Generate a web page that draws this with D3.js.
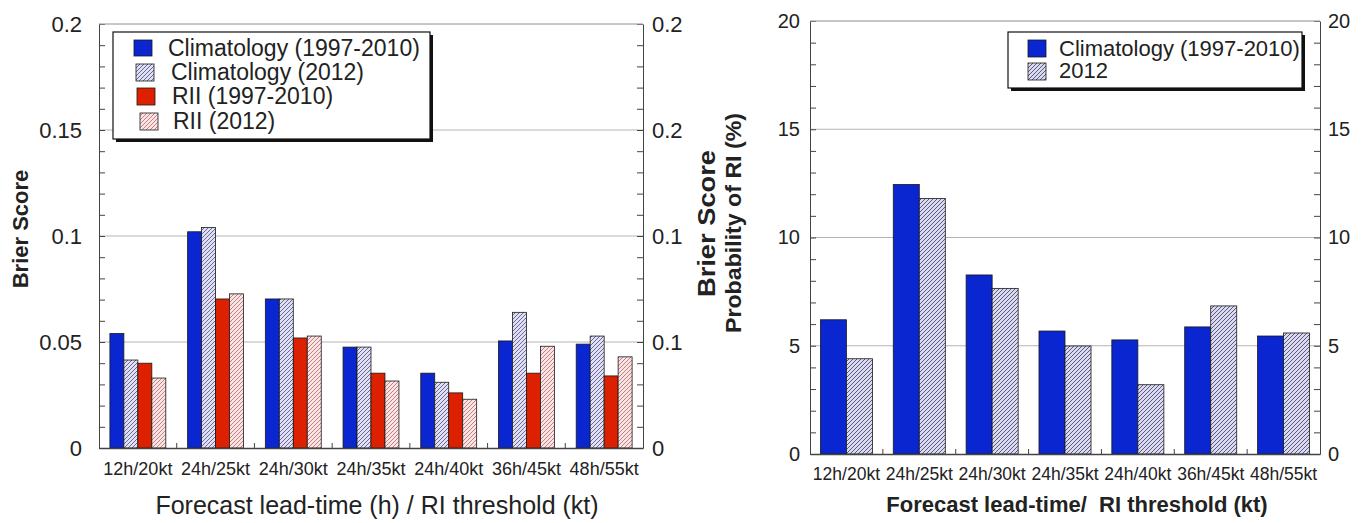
<!DOCTYPE html>
<html>
<head>
<meta charset="utf-8">
<script src="https://cdn.jsdelivr.net/npm/d3@7"></script>
<style>
  html, body { margin: 0; padding: 0; background: #fff; }
  svg { display: block; }
  text { font-family: "Liberation Sans", Arial, Helvetica, sans-serif; fill: #222; }
</style>
</head>
<body>
<script>
// ---------------- DATA ----------------
const categories = ["12h/20kt", "24h/25kt", "24h/30kt", "24h/35kt", "24h/40kt", "36h/45kt", "48h/55kt"];

// Left panel: Brier Score
const climBS_9710 = [0.054, 0.102, 0.0703, 0.0476, 0.0353, 0.0505, 0.049];
const climBS_2012 = [0.0415, 0.104, 0.0703, 0.0476, 0.031, 0.064, 0.0528];
const riiBS_9710  = [0.040, 0.0703, 0.0519, 0.0353, 0.026, 0.0353, 0.034];
const riiBS_2012  = [0.033, 0.0727, 0.0528, 0.0316, 0.023, 0.048, 0.043];
const leftSeriesNames = ["Climatology (1997-2010)", "Climatology (2012)", "RII (1997-2010)", "RII (2012)"];
const leftTickValues = [0, 0.05, 0.1, 0.15, 0.2];
const leftTickLabels = ["0", "0.05", "0.1", "0.15", "0.2"];
const leftRightTickLabels = ["0", "0.1", "0.1", "0.2", "0.2"];

// Right panel: Probability of RI (%)
const probClim_9710 = [6.2, 12.45, 8.27, 5.68, 5.27, 5.87, 5.45];
const prob_2012     = [4.4, 11.8, 7.65, 4.99, 3.2, 6.84, 5.59];
const rightSeriesNames = ["Climatology (1997-2010)", "2012"];
const rightTickValues = [0, 5, 10, 15, 20];
const rightTickLabels = ["0", "5", "10", "15", "20"];

// ---------------- SVG ----------------
const W = 1368, H = 523;
const svg = d3.select("body").append("svg").attr("width", W).attr("height", H);

const defs = svg.append("defs");
function hatch(id, bg, line) {
  const p = defs.append("pattern").attr("id", id).attr("patternUnits", "userSpaceOnUse")
    .attr("width", 4).attr("height", 4);
  p.append("rect").attr("width", 4).attr("height", 4).attr("fill", bg);
  p.append("path").attr("d", "M-1,1 l2,-2 M0,4 l4,-4 M3,5 l2,-2")
    .attr("stroke", line).attr("stroke-width", 0.9);
}
hatch("hBlue", "#e0e0f2", "#5a5a90");
hatch("hRed", "#f8e4e4", "#c07474");
hatch("hBlue2", "#dadaec", "#4a4a7e");

const BLUE = "#0a26d0", RED = "#dc2000";
const AXIS = "#444", GRID = "#b4b4b4";

// Generic panel drawer
function panel(opts) {
  const g = svg.append("g");
  const x = d3.scaleBand().domain(categories).range([opts.x0, opts.x1]).paddingInner(0).paddingOuter(0);
  const y = d3.scaleLinear().domain(opts.domain).range([opts.yb, opts.yt]);
  const sub = d3.scaleBand().domain(d3.range(opts.series.length))
    .range([0, x.bandwidth()]).paddingInner(0).paddingOuter(opts.subPad);

  // gridlines
  g.append("g").selectAll("line").data(opts.majors.slice(1)).join("line")
    .attr("x1", opts.x0).attr("x2", opts.x1)
    .attr("y1", d => y(d)).attr("y2", d => y(d))
    .attr("stroke", GRID).attr("stroke-width", 1);

  // bars
  opts.series.forEach((s, i) => {
    g.append("g").selectAll("rect").data(s.values).join("rect")
      .attr("x", (d, j) => x(categories[j]) + sub(i))
      .attr("width", sub.bandwidth())
      .attr("y", d => y(d))
      .attr("height", d => y(0) - y(d))
      .attr("fill", s.fill)
      .attr("stroke", "#1a1a1a").attr("stroke-width", 0.8);
  });

  // left axis
  const axL = d3.axisLeft(y).tickValues(opts.majors).tickSizeInner(-6).tickSizeOuter(0)
    .tickPadding(opts.padL).tickFormat((d, i) => opts.labelsL[i]);
  const gl = g.append("g").attr("transform", `translate(${opts.x0},0)`).call(axL);
  const axLm = d3.axisLeft(y).tickValues(opts.minors).tickSize(-6).tickFormat("");
  const glm = g.append("g").attr("transform", `translate(${opts.x0},0)`).call(axLm);
  glm.select(".domain").remove();

  // right axis
  const axR = d3.axisRight(y).tickValues(opts.majors).tickSizeInner(-6).tickSizeOuter(0)
    .tickPadding(opts.padR).tickFormat((d, i) => opts.labelsR[i]);
  const gr = g.append("g").attr("transform", `translate(${opts.x1},0)`).call(axR);
  const axRm = d3.axisRight(y).tickValues(opts.minors).tickSize(-6).tickFormat("");
  const grm = g.append("g").attr("transform", `translate(${opts.x1},0)`).call(axRm);
  grm.select(".domain").remove();

  [gl, gr].forEach(a => {
    a.selectAll("text").style("font-size", opts.yFont + "px").attr("fill", "#222");
  });
  [gl, glm, gr, grm].forEach(a => {
    a.selectAll("path,line").attr("stroke", AXIS);
    a.attr("font-family", null);
  });

  // bottom axis
  const axB = d3.axisBottom(x).tickSize(0).tickPadding(opts.xPad).tickSizeOuter(0);
  const gb = g.append("g").attr("transform", `translate(0,${y(0)})`).call(axB);
  gb.attr("font-family", null);
  gb.select(".domain").attr("stroke", AXIS).attr("stroke-width", 1.3);
  gb.selectAll("text").style("font-size", opts.xFont + "px").attr("fill", "#222");
  // group boundary ticks (pointing up)
  g.append("g").selectAll("line").data(categories.slice(1)).join("line")
    .attr("x1", d => x(d)).attr("x2", d => x(d))
    .attr("y1", y(0)).attr("y2", y(0) - 5)
    .attr("stroke", AXIS);

  return { x, y, g };
}

// ---------------- LEFT PANEL ----------------
const leftFills = [BLUE, "url(#hBlue)", RED, "url(#hRed)"];
const leftVals = [climBS_9710, climBS_2012, riiBS_9710, riiBS_2012];
const L = panel({
  x0: 99, x1: 643, yb: 448, yt: 24, domain: [0, 0.2],
  majors: leftTickValues, minors: d3.range(0, 21).map(d => d / 100).filter(d => Math.round(d * 100) % 5 !== 0),
  labelsL: leftTickLabels, labelsR: leftRightTickLabels,
  padL: 17, padR: 9, yFont: 22, xFont: 18, xPad: 14,
  subPad: 0.78,
  series: leftVals.map((v, i) => ({ values: v, fill: leftFills[i] }))
});

// top line
svg.append("line").attr("x1", 99).attr("x2", 643).attr("y1", L.y(0.2)).attr("y2", L.y(0.2))
  .attr("stroke", GRID);

// titles
svg.append("text").attr("transform", `translate(28,229) rotate(-90)`)
  .attr("text-anchor", "middle").style("font-size", "22px").style("font-weight", "bold")
  .text("Brier Score");
svg.append("text").attr("x", 377).attr("y", 514).attr("text-anchor", "middle")
  .style("font-size", "25px").text("Forecast lead-time (h) / RI threshold (kt)");

// legend helper
function legend(bx, by, bw, bh, fs, items) {
  const lg = svg.append("g");
  lg.append("rect").attr("x", bx + 3).attr("y", by + 3).attr("width", bw).attr("height", bh).attr("fill", "#111");
  lg.append("rect").attr("x", bx).attr("y", by).attr("width", bw).attr("height", bh)
    .attr("fill", "#fff").attr("stroke", "#111").attr("stroke-width", 1.2);
  items.forEach(it => {
    lg.append("rect").attr("x", it.sx).attr("y", it.sy).attr("width", it.sw).attr("height", it.sh)
      .attr("fill", it.fill).attr("stroke", "#1a1a1a").attr("stroke-width", 0.8);
    lg.append("text").attr("x", it.tx).attr("y", it.ty).style("font-size", fs + "px").text(it.label);
  });
}
legend(113, 32, 317, 107, 23, [
  { sx: 134, sy: 40, sw: 18, sh: 16, fill: leftFills[0], tx: 168, ty: 56, label: leftSeriesNames[0] },
  { sx: 136, sy: 64, sw: 18, sh: 17, fill: leftFills[1], tx: 171, ty: 80, label: leftSeriesNames[1] },
  { sx: 137, sy: 88, sw: 18, sh: 17, fill: leftFills[2], tx: 172, ty: 104, label: leftSeriesNames[2] },
  { sx: 140, sy: 113, sw: 18, sh: 17, fill: leftFills[3], tx: 173, ty: 129, label: leftSeriesNames[3] }
]);

// ---------------- RIGHT PANEL ----------------
const rightFills = [BLUE, "url(#hBlue2)"];
const R = panel({
  x0: 810, x1: 1320, yb: 454, yt: 21, domain: [0, 20],
  majors: rightTickValues, minors: d3.range(0, 21).filter(d => d % 5 !== 0),
  labelsL: rightTickLabels, labelsR: rightTickLabels,
  padL: 10, padR: 8, yFont: 20, xFont: 17.5, xPad: 14,
  subPad: 0.40,
  series: [probClim_9710, prob_2012].map((v, i) => ({ values: v, fill: rightFills[i] }))
});
svg.append("line").attr("x1", 810).attr("x2", 1320).attr("y1", R.y(20)).attr("y2", R.y(20))
  .attr("stroke", GRID);

svg.append("text").attr("transform", `translate(715,223.5) rotate(-90)`)
  .attr("text-anchor", "middle").style("font-size", "24px").style("font-weight", "bold")
  .attr("textLength", 147).attr("lengthAdjust", "spacingAndGlyphs")
  .text("Brier Score");
svg.append("text").attr("transform", `translate(741,223) rotate(-90)`)
  .attr("text-anchor", "middle").style("font-size", "22px").style("font-weight", "bold")
  .attr("textLength", 220).attr("lengthAdjust", "spacingAndGlyphs")
  .text("Probability of RI (%)");
svg.append("text").attr("x", 1077).attr("y", 512).attr("text-anchor", "middle")
  .style("font-size", "22px").style("font-weight", "bold")
  .text("Forecast lead-time/\u00a0\u00a0RI threshold (kt)");

legend(1008, 32, 294, 56, 22, [
  { sx: 1028, sy: 40, sw: 18, sh: 17, fill: rightFills[0], tx: 1059, ty: 56, label: rightSeriesNames[0] },
  { sx: 1028, sy: 63, sw: 18, sh: 17, fill: rightFills[1], tx: 1059, ty: 78, label: rightSeriesNames[1] }
]);
</script>
</body>
</html>
